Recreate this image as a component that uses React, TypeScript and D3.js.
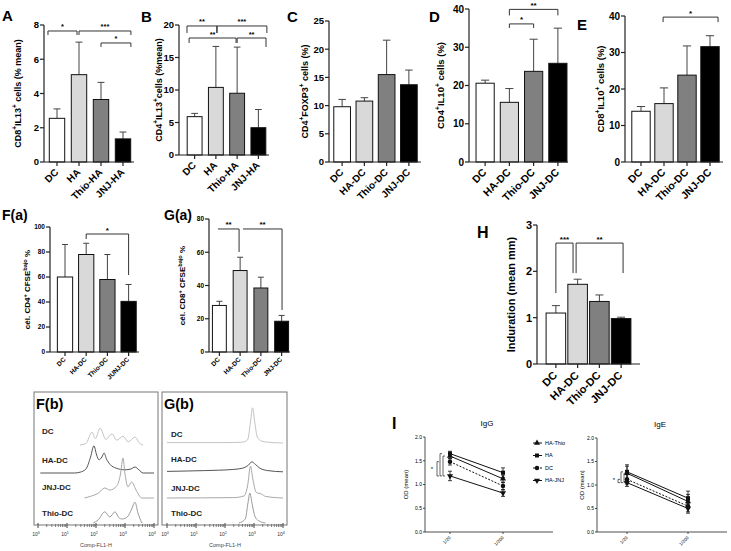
import React from "react";
import * as d3 from "d3";

const FONT = "'Liberation Sans', Arial, Helvetica, sans-serif";
const barFills = ["#ffffff", "#d9d9d9", "#808080", "#000000"];

// group names
const groupsHA = ["DC", "HA", "Thio-HA", "JNJ-HA"];
const groupsDC = ["DC", "HA-DC", "Thio-DC", "JNJ-DC"];
const groupsFa = ["DC", "HA-DC", "Thio-DC", "JUNJ-DC"];

// A - CD8+IL13+
const aMean = [2.55, 5.1, 3.65, 1.35];
const aErr = [0.55, 1.9, 1.0, 0.4];
const aTicks = [0, 2, 4, 6, 8];
// B - CD4+IL13+
const bMean = [5.9, 10.4, 9.5, 4.2];
const bErr = [0.5, 6.3, 7.1, 2.8];
const bTicks = [0, 5, 10, 15, 20];
// C - CD4+FOXP3+
const cMean = [9.8, 10.8, 15.5, 13.7];
const cErr = [1.3, 0.6, 6.1, 2.6];
const cTicks = [0, 5, 10, 15, 20, 25];
// D - CD4+IL10+
const dMean = [20.6, 15.6, 23.7, 25.8];
const dErr = [0.8, 3.6, 8.4, 9.2];
const dTicks = [0, 10, 20, 30, 40];
// E - CD8+IL10+
const eMean = [13.9, 16.0, 23.8, 31.6];
const eErr = [1.3, 4.3, 8.0, 3.0];
const eTicks = [0, 10, 20, 30, 40];
// F(a) CD4 proliferation
const faMean = [60, 78, 58, 40.5];
const faErr = [26, 9, 20, 13.5];
const faTicks = [0, 20, 40, 60, 80, 100];
// G(a) CD8 proliferation
const gaMean = [28, 49, 38.5, 18.5];
const gaErr = [2.5, 8, 6.5, 3.5];
const gaTicks = [0, 20, 40, 60, 80];
// H induration
const hMean = [1.1, 1.72, 1.35, 0.98];
const hErr = [0.16, 0.11, 0.14, 0.03];
const hTicks = [0, 1, 2, 3];

type Br = { a: number; b: number; y: number; label: string; dl: number; dr: number };
const aBr: Br[] = [
  { a: -0.41, b: 0.91, y: 7.65, label: "*", dl: 4, dr: 4 },
  { a: 1.0, b: 3.36, y: 7.65, label: "***", dl: 4, dr: 4 },
  { a: 2.0, b: 3.36, y: 6.95, label: "*", dl: 4, dr: 4 },
];
const bBr: Br[] = [
  { a: -0.36, b: 1.05, y: 19.85, label: "**", dl: 7, dr: 7 },
  { a: 1.05, b: 3.4, y: 19.85, label: "***", dl: 7, dr: 7 },
  { a: -0.26, b: 1.95, y: 18.0, label: "**", dl: 5, dr: 5 },
  { a: 2.0, b: 3.36, y: 18.0, label: "**", dl: 5, dr: 9 },
];
const dBr: Br[] = [
  { a: 1, b: 3, y: 39.9, label: "**", dl: 6, dr: 6 },
  { a: 1, b: 2, y: 36.1, label: "*", dl: 4, dr: 4 },
];
const eBr: Br[] = [{ a: 0.96, b: 3.35, y: 39.7, label: "*", dl: 5, dr: 5 }];
const faBr: Br[] = [{ a: 1.0, b: 3.0, y: 94.4, label: "*", dl: 5, dr: 41 }];
const gaBr: Br[] = [
  { a: -0.07, b: 0.95, y: 74, label: "**", dl: 0, dr: 23 },
  { a: 1.14, b: 3.02, y: 74, label: "**", dl: 0, dr: 81 },
];
const hBr: Br[] = [
  { a: 0, b: 0.79, y: 2.61, label: "***", dl: 50, dr: 30 },
  { a: 0.93, b: 3.09, y: 2.61, label: "**", dl: 30, dr: 30 },
];

// flow cytometry histograms: [channel, count]
const histRows = ["DC", "HA-DC", "JNJ-DC", "Thio-DC"];
const fDC = [[28, 0], [45, 4], [73, 32], [95, 16], [138, 42], [220, 14], [355, 28], [520, 12], [850, 22], [1300, 8], [2200, 20], [3200, 4], [4200, 0]];
const fHA = [[1.2, 0], [18, 0], [28, 2], [45, 10], [65, 40], [85, 68], [105, 45], [126, 33], [160, 40], [190, 50], [230, 35], [300, 22], [500, 12], [1000, 8], [1600, 10], [2200, 15], [3000, 8], [4200, 0], [10000, 0]];
const fJNJ = [[40, 0], [70, 5], [120, 12], [200, 25], [300, 20], [520, 30], [700, 60], [850, 100], [1000, 60], [1260, 28], [1700, 40], [2400, 20], [3800, 0], [10000, 0]];
const fThio = [[80, 0], [120, 8], [200, 28], [300, 15], [450, 28], [600, 14], [800, 10], [1200, 15], [1700, 35], [2200, 52], [2800, 25], [3800, 0]];
const gDC = [[1, 1], [100, 1], [400, 2], [600, 8], [750, 50], [890, 88], [1050, 55], [1300, 15], [1800, 5], [3000, 2], [10000, 0]];
const gHA = [[1, 4], [5, 5], [20, 6], [60, 7], [200, 9], [400, 12], [650, 20], [850, 28], [1100, 22], [1600, 12], [3000, 6], [10000, 3]];
const gJNJ = [[1, 0], [200, 1], [450, 5], [600, 30], [760, 80], [900, 50], [1200, 14], [1800, 10], [2500, 4], [10000, 0]];
const gThio = [[300, 0], [500, 10], [620, 50], [720, 75], [850, 50], [1100, 15], [1600, 4], [2500, 0]];
const histColors = ["#c4c4c4", "#555555", "#a8a8a8", "#9a9a9a"];
const decades = [0, 1, 2, 3, 4];

// I - antibody ELISA
const dilutions = ["1/20", "1/200"];
const seriesNames = ["HA-Thio", "HA", "DC", "HA-JNJ"];
const igGHaThio = [1.6, 1.12];
const igGHa = [1.65, 1.25];
const igGDc = [1.48, 0.97];
const igGHaJnj = [1.18, 0.82];
const igGErr = [[0.06, 0.08], [0.05, 0.1], [0.07, 0.08], [0.1, 0.07]];
const igEHaThio = [1.25, 0.65];
const igEHa = [1.28, 0.72];
const igEDc = [1.12, 0.55];
const igEHaJnj = [1.05, 0.5];
const igEErr = [[0.15, 0.15], [0.15, 0.15], [0.1, 0.12], [0.08, 0.1]];
const odTicks = [0, 0.5, 1.0, 1.5, 2.0];

function Rich({ text, fs, ...rest }: any) {
  const parts = text.split(/(\^\{[^}]*\})/).filter((s: string) => s.length);
  let prevSup = false;
  const kids = parts.map((s: string, i: number) => {
    if (s.startsWith("^{")) {
      const el = (
        <tspan key={i} fontSize={fs * 0.7} dy={prevSup ? 0 : -fs * 0.4}>
          {s.slice(2, -1)}
        </tspan>
      );
      prevSup = true;
      return el;
    }
    const el = (
      <tspan key={i} dy={prevSup ? fs * 0.4 : 0}>
        {s}
      </tspan>
    );
    prevSup = false;
    return el;
  });
  return (
    <text fontSize={fs} fontFamily={FONT} {...rest}>
      {kids}
    </text>
  );
}

function BarPanel(p: any) {
  const n = p.groups.length;
  const x = d3
    .scaleBand<number>()
    .domain(d3.range(n))
    .range([p.x0, p.x1])
    .paddingInner(p.pad)
    .paddingOuter(p.pad / 2);
  const y = d3.scaleLinear().domain([0, p.max]).range([p.yBot, p.yTop]);
  const step = x.step();
  const cx = (f: number) => p.x0 + step * (f + 0.5);
  const bw = x.bandwidth();
  const cap = p.cap ?? bw * 0.45;
  return (
    <g fontFamily={FONT} fontWeight="bold">
      {p.means.map((m: number, i: number) => {
        const c = cx(i);
        const top = y(m + p.errs[i]);
        return (
          <g key={i}>
            <line x1={c} x2={c} y1={y(m)} y2={top} stroke="#444" strokeWidth={1} />
            <line x1={c - cap / 2} x2={c + cap / 2} y1={top} y2={top} stroke="#444" strokeWidth={1} />
            <rect
              x={x(i)}
              y={y(m)}
              width={bw}
              height={p.yBot - y(m)}
              fill={barFills[i]}
              stroke="#111"
              strokeWidth={1}
            />
          </g>
        );
      })}
      {/* axes */}
      <line x1={p.axisX} x2={p.axisX} y1={y(p.max)} y2={p.yBot} stroke="#222" strokeWidth={1.2} />
      <line x1={p.axisX} x2={p.xEnd} y1={p.yBot} y2={p.yBot} stroke="#222" strokeWidth={1.2} />
      {p.ticks.map((t: number) => (
        <g key={t}>
          <line x1={p.axisX - 4} x2={p.axisX} y1={y(t)} y2={y(t)} stroke="#222" strokeWidth={1.2} />
          <text x={p.axisX - 5} y={y(t)} dy="0.35em" textAnchor="end" fontSize={p.tickFs}>
            {t}
          </text>
        </g>
      ))}
      {p.groups.map((g: string, i: number) => {
        const c = cx(i);
        return (
          <g key={g}>
            <line x1={c} x2={c} y1={p.yBot} y2={p.yBot + 4} stroke="#222" strokeWidth={1.2} />
            <text
              transform={`translate(${c + p.xlOff},${p.yBot + p.xlDown}) rotate(-45)`}
              textAnchor="end"
              fontSize={p.xFs}
            >
              {g}
            </text>
          </g>
        );
      })}
      <Rich
        text={p.ylabel}
        fs={p.yFs}
        textAnchor="middle"
        transform={`translate(${p.ylabelX},${(p.yTop + p.yBot) / 2}) rotate(-90)`}
      />
      {p.brackets.map((b: Br, i: number) => {
        const y0 = y(b.y);
        const xa = cx(b.a);
        const xb = cx(b.b);
        return (
          <g key={i}>
            <path
              d={`M${xa},${y0 + b.dl}V${y0}H${xb}V${y0 + b.dr}`}
              fill="none"
              stroke="#333"
              strokeWidth={1}
            />
            <text x={(xa + xb) / 2} y={y0 - 1.5} textAnchor="middle" fontSize={p.brFs}>
              {b.label}
            </text>
          </g>
        );
      })}
    </g>
  );
}

function HistPanel(p: any) {
  const xs = d3.scaleLog().domain([1, 1e4]).range([p.ax0, p.ax1]);
  const hs = d3.scaleLinear().domain([0, 100]).range([0, 40]);
  const minor: number[] = [];
  decades.slice(0, 4).forEach((d) => {
    for (let k = 2; k <= 9; k++) minor.push(k * Math.pow(10, d));
  });
  return (
    <g fontFamily={FONT}>
      <rect x={p.bx0} y={p.top} width={p.bx1 - p.bx0} height={p.bot - p.top} fill="none" stroke="#777" strokeWidth={1} />
      {p.curves.map((c: number[][], i: number) => {
        const base = p.bases[i];
        const line = d3
          .line<number[]>()
          .x((d) => xs(d[0]))
          .y((d) => base - hs(d[1]))
          .curve(d3.curveMonotoneX);
        return <path key={i} d={line(c) || ""} fill="none" stroke={histColors[i]} strokeWidth={1} />;
      })}
      {histRows.map((r, i) => (
        <text key={r} x={p.labelX} y={p.labelY[i]} fontSize={8} fontWeight="bold" fill="#222">
          {r}
        </text>
      ))}
      {decades.map((d) => (
        <g key={d}>
          <line x1={xs(Math.pow(10, d))} x2={xs(Math.pow(10, d))} y1={p.bot - 2} y2={p.bot + 3} stroke="#444" />
          <text x={xs(Math.pow(10, d)) - 2} y={p.bot + 11} fontSize={5} textAnchor="middle" fill="#333">
            10
            <tspan fontSize={3.8} dy={-2.5}>
              {d}
            </tspan>
          </text>
        </g>
      ))}
      {minor.map((m) => (
        <line key={m} x1={xs(m)} x2={xs(m)} y1={p.bot - 1} y2={p.bot + 2} stroke="#666" strokeWidth={0.8} />
      ))}
      <text x={(p.ax0 + p.ax1) / 2} y={p.bot + 22} fontSize={5.5} textAnchor="middle" fill="#444">
        Comp-FL1-H
      </text>
      <text x={p.bx0 + 2} y={p.top + 17} fontSize={14.5} fontWeight="bold">
        {p.title}
      </text>
    </g>
  );
}

const symbols = [
  d3.symbol().type(d3.symbolTriangle).size(16)(),
  d3.symbol().type(d3.symbolSquare).size(16)(),
  d3.symbol().type(d3.symbolCircle).size(16)(),
  d3.symbol().type(d3.symbolTriangle).size(16)(),
];
const symRot = [0, 0, 0, 180];

function LinePanel(p: any) {
  const x = d3.scalePoint<string>().domain(dilutions).range([p.px0, p.px1]);
  const y = d3.scaleLinear().domain([0, 2]).range([p.yBot, p.yTop]);
  return (
    <g fontFamily={FONT}>
      <line x1={p.axisX} x2={p.axisX} y1={p.yTop} y2={p.yBot} stroke="#222" strokeWidth={0.8} />
      <line x1={p.axisX} x2={p.xEnd} y1={p.yBot} y2={p.yBot} stroke="#222" strokeWidth={0.8} />
      {odTicks.map((t) => (
        <g key={t}>
          <line x1={p.axisX - 2} x2={p.axisX} y1={y(t)} y2={y(t)} stroke="#222" strokeWidth={0.8} />
          <text x={p.axisX - 3} y={y(t)} dy="0.35em" textAnchor="end" fontSize={5}>
            {t.toFixed(1)}
          </text>
        </g>
      ))}
      {dilutions.map((d) => (
        <g key={d}>
          <line x1={x(d)} x2={x(d)} y1={p.yBot} y2={p.yBot + 2} stroke="#222" strokeWidth={0.8} />
          <text transform={`translate(${(x(d) as number) + 1},${p.yBot + 6}) rotate(-45)`} textAnchor="end" fontSize={4.5}>
            {d}
          </text>
        </g>
      ))}
      <text
        transform={`translate(${p.ylabelX},${(p.yTop + p.yBot) / 2}) rotate(-90)`}
        textAnchor="middle"
        fontSize={6}
      >
        OD (mean)
      </text>
      <text x={(p.axisX + p.xEnd) / 2 - 2} y={p.yTop - 11} textAnchor="middle" fontSize={8}>
        {p.title}
      </text>
      {p.series.map((s: number[], i: number) => {
        const line = d3
          .line<number>()
          .x((_, j) => x(dilutions[j]) as number)
          .y((v) => y(v));
        return (
          <g key={i}>
            <path d={line(s) || ""} fill="none" stroke="#111" strokeWidth={1} strokeDasharray={i === 2 ? "2,1.5" : undefined} />
            {s.map((v, j) => {
              const cx = x(dilutions[j]) as number;
              const e = p.errs[i][j];
              return (
                <g key={j}>
                  <line x1={cx} x2={cx} y1={y(v - e)} y2={y(v + e)} stroke="#111" strokeWidth={0.8} />
                  <line x1={cx - 2} x2={cx + 2} y1={y(v - e)} y2={y(v - e)} stroke="#111" strokeWidth={0.8} />
                  <line x1={cx - 2} x2={cx + 2} y1={y(v + e)} y2={y(v + e)} stroke="#111" strokeWidth={0.8} />
                  <path d={symbols[i] || ""} transform={`translate(${cx},${y(v)}) rotate(${symRot[i]})`} fill="#111" />
                </g>
              );
            })}
          </g>
        );
      })}
      {p.brX.map((bx: number, i: number) => {
        const top = y(p.series[i][0]);
        const bot = y(p.series[3][0]);
        return (
          <path
            key={i}
            d={`M${bx + 2},${top}H${bx}V${bot}H${bx + 2}`}
            fill="none"
            stroke="#222"
            strokeWidth={0.7}
          />
        );
      })}
      <text x={p.starX} y={y(p.starV)} fontSize={6} textAnchor="middle" dy="0.5em">
        *
      </text>
    </g>
  );
}

export default function App() {
  const fCurves = [fDC, fHA, fJNJ, fThio];
  const gCurves = [gDC, gHA, gJNJ, gThio];
  return (
    <div style={{ position: "absolute", left: 0, top: 0 }}>
      <svg width={731} height={551} style={{ display: "block", background: "#fff" }}>
        <rect width={731} height={551} fill="#fff" />
        {/* panel letters */}
        <g fontFamily={FONT} fontWeight="bold">
          <text x={2} y={21} fontSize={15}>A</text>
          <text x={141} y={22} fontSize={15}>B</text>
          <text x={287} y={22} fontSize={15}>C</text>
          <text x={429} y={22} fontSize={15}>D</text>
          <text x={577} y={30} fontSize={15}>E</text>
          <text x={2} y={220} fontSize={14}>F(a)</text>
          <text x={164} y={220} fontSize={14}>G(a)</text>
          <text x={477} y={238} fontSize={16}>H</text>
          <text x={392} y={429} fontSize={16}>I</text>
        </g>

        <BarPanel groups={groupsHA} means={aMean} errs={aErr} ticks={aTicks} max={8}
          axisX={44} x0={46} x1={134} xEnd={134} yTop={25} yBot={162} pad={0.3}
          ylabel="CD8^{+}IL13^{+} cells (% mean)" ylabelX={21} tickFs={9.5} xFs={10} yFs={9}
          xlOff={2} xlDown={11} brackets={aBr} brFs={7.5} />
        <BarPanel groups={groupsHA} means={bMean} errs={bErr} ticks={bTicks} max={20}
          axisX={179} x0={184} x1={269} xEnd={269} yTop={25} yBot={155} pad={0.3}
          ylabel="CD4^{+}IL13^{+}cells (%mean)" ylabelX={162} tickFs={9.5} xFs={10} yFs={9}
          xlOff={2} xlDown={11} brackets={bBr} brFs={7.5} />
        <BarPanel groups={groupsDC} means={cMean} errs={cErr} ticks={cTicks} max={25}
          axisX={329} x0={331} x1={420} xEnd={421} yTop={21} yBot={162} pad={0.25}
          ylabel="CD4^{+}FOXP3^{+} cells (%)" ylabelX={308} tickFs={9.5} xFs={10} yFs={9}
          xlOff={2} xlDown={11} brackets={[]} brFs={7.5} />
        <BarPanel groups={groupsDC} means={dMean} errs={dErr} ticks={dTicks} max={40}
          axisX={469} x0={473} x1={570} xEnd={568} yTop={9} yBot={162} pad={0.25}
          ylabel="CD4^{+}IL10^{+} cells (%)" ylabelX={444} tickFs={10} xFs={10.5} yFs={9.5}
          xlOff={2} xlDown={11} brackets={dBr} brFs={8} />
        <BarPanel groups={groupsDC} means={eMean} errs={eErr} ticks={eTicks} max={40}
          axisX={625} x0={629.5} x1={721.5} xEnd={723} yTop={16} yBot={162} pad={0.2}
          ylabel="CD8^{+}IL10^{+} cells (%)" ylabelX={604} tickFs={10} xFs={10.5} yFs={9.5}
          xlOff={2} xlDown={11} brackets={eBr} brFs={8} />

        <BarPanel groups={groupsFa} means={faMean} errs={faErr} ticks={faTicks} max={100}
          axisX={50} x0={54.4} x1={139.2} xEnd={139} yTop={227} yBot={352} pad={0.28}
          ylabel="cél. CD4^{+} CFSE^{bajo} %" ylabelX={30} tickFs={6.5} xFs={6.5} yFs={8}
          xlOff={1} xlDown={8} brackets={faBr} brFs={8} cap={6} />
        <BarPanel groups={groupsDC} means={gaMean} errs={gaErr} ticks={gaTicks} max={80}
          axisX={209} x0={209} x1={292} xEnd={290} yTop={219} yBot={352} pad={0.33}
          ylabel="cél. CD8^{+} CFSE^{bajo} %" ylabelX={185} tickFs={6.5} xFs={6.5} yFs={8}
          xlOff={1} xlDown={8} brackets={gaBr} brFs={8} cap={6} />
        <BarPanel groups={groupsDC} means={hMean} errs={hErr} ticks={hTicks} max={3}
          axisX={537} x0={545} x1={632} xEnd={640} yTop={225} yBot={364} pad={0.1}
          ylabel="Induration (mean mm)" ylabelX={515} tickFs={11} xFs={11} yFs={11}
          xlOff={2} xlDown={12} brackets={hBr} brFs={8} cap={8} />

        <HistPanel title="F(b)" bx0={34} bx1={158} ax0={38} ax1={154} top={392} bot={525}
          curves={fCurves} bases={[445, 473, 498, 523]} labelX={42} labelY={[434, 463, 490, 516]} />
        <HistPanel title="G(b)" bx0={162} bx1={287} ax0={167} ax1={283} top={392} bot={525}
          curves={gCurves} bases={[443, 473, 498, 523]} labelX={171} labelY={[437, 462, 491, 516]} />

        <LinePanel title="IgG" axisX={425} xEnd={553} px0={450} px1={503} yTop={437} yBot={532}
          ylabelX={408} series={[igGHaThio, igGHa, igGDc, igGHaJnj]} errs={igGErr}
          brX={[443, 440, 437]} starX={432} starV={1.34} />
        <LinePanel title="IgE" axisX={597} xEnd={727} px0={627} px1={688} yTop={438} yBot={532}
          ylabelX={584} series={[igEHaThio, igEHa, igEDc, igEHaJnj]} errs={igEErr}
          brX={[624, 621, 618]} starX={614} starV={1.12} />

        {/* legend */}
        <g fontFamily={FONT} fontSize={5.5}>
          {seriesNames.map((s, i) => {
            const ly = 443 + i * 12.5;
            return (
              <g key={s}>
                <line x1={533} x2={542} y1={ly} y2={ly} stroke="#111" strokeDasharray={i === 2 ? "2,1.5" : undefined} />
                <path d={symbols[i] || ""} transform={`translate(${537},${ly}) rotate(${symRot[i]})`} fill="#111" />
                <text x={545} y={ly} dy="0.35em">{s}</text>
              </g>
            );
          })}
        </g>
      </svg>
    </div>
  );
}
